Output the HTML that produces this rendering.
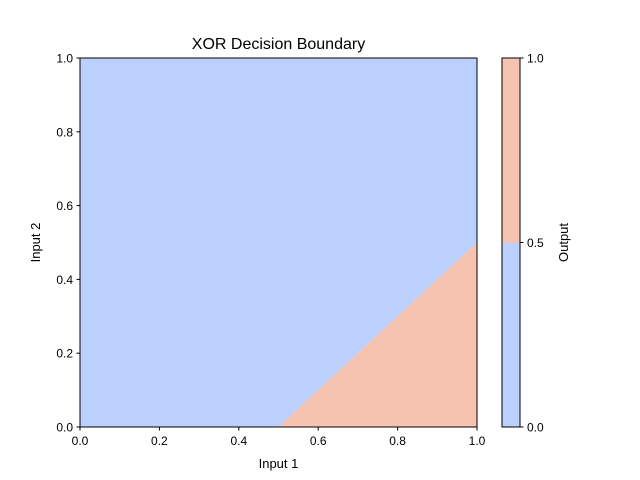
<!DOCTYPE html>
<html><head><meta charset="utf-8"><style>
body{margin:0;background:#fff;}
svg{display:block;font-family:"Liberation Sans","DejaVu Sans",sans-serif;}
</style></head><body>
<svg id="chart" width="640" height="480"></svg>
<script>
const xTicks=[0,0.2,0.4,0.6,0.8,1.0];
const yTicks=[0,0.2,0.4,0.6,0.8,1.0];
const class0Region=[[0,0],[0.5,0],[1,0.5],[1,1],[0,1]];
const class1Region=[[0.5,0],[1,0],[1,0.5]];
const cbLevels=[0,0.5,1.0];
const cbColors=["#bcd0fd","#f7c3b1"];
const L=80,R=477,T=58,B=427;
const sx=v=>L+(v-0)/(1-0)*(R-L);
const sy=v=>B-(v-0)/(1-0)*(B-T);
const NS="http://www.w3.org/2000/svg";
const svg=document.getElementById('chart');
function mk(tag,attrs,txt){const e=document.createElementNS(NS,tag);for(const k in attrs)e.setAttribute(k,attrs[k]);if(txt!==undefined)e.textContent=txt;svg.appendChild(e);return e;}
let p=mk('polygon',{points:class0Region.map(d=>sx(d[0])+','+sy(d[1])).join(' '),fill:cbColors[0]});


p=mk('polygon',{points:class1Region.map(d=>sx(d[0])+','+sy(d[1])).join(' '),fill:cbColors[1]});


let f=mk('rect',{x:L,y:T,width:R-L,height:B-T,fill:'none',stroke:'#000','stroke-width':1});


xTicks.forEach(v=>{
  let t=mk('line',{x1:sx(v),x2:sx(v),y1:B,y2:B+3.5,stroke:'#000'});
  
  
  let l=mk('text',{x:sx(v),y:B+18,'font-size':12,'text-anchor':'middle'},v.toFixed(1));
  
  
});
yTicks.forEach(v=>{
  let t=mk('line',{x1:L-3.5,x2:L,y1:sy(v),y2:sy(v),stroke:'#000'});
  
  
  let l=mk('text',{x:L-7,y:sy(v)+4.5,'font-size':12,'text-anchor':'end'},v.toFixed(1));
  
  
});
let e=mk('text',{x:(L+R)/2,y:468,'font-size':13,'text-anchor':'middle'},'Input 1');


e=mk('text',{x:40,y:(T+B)/2,'font-size':13,'text-anchor':'middle',transform:'rotate(-90 40 '+((T+B)/2)+')'},'Input 2');


e=mk('text',{x:(L+R)/2,y:49,'font-size':16,'text-anchor':'middle'},'XOR Decision Boundary');


// colorbar
const CL=502,CR=520;
const cy=v=>B-(v-cbLevels[0])/(cbLevels[cbLevels.length-1]-cbLevels[0])*(B-T);
for(let i=0;i<cbLevels.length-1;i++){
  let r=mk('rect',{x:CL,y:cy(cbLevels[i+1]),width:CR-CL,height:cy(cbLevels[i])-cy(cbLevels[i+1]),fill:cbColors[i]});
  
  
}
e=mk('rect',{x:CL,y:T,width:CR-CL,height:B-T,fill:'none',stroke:'#000'});


cbLevels.forEach(v=>{
  let t=mk('line',{x1:CR,x2:CR+3.5,y1:cy(v),y2:cy(v),stroke:'#000'});
  
  
  let l=mk('text',{x:CR+7,y:cy(v)+4.5,'font-size':12},v.toFixed(1));
  
  
});
e=mk('text',{x:568,y:(T+B)/2,'font-size':13,'text-anchor':'middle',transform:'rotate(-90 568 '+((T+B)/2)+')'},'Output');


</script>
</body></html>
